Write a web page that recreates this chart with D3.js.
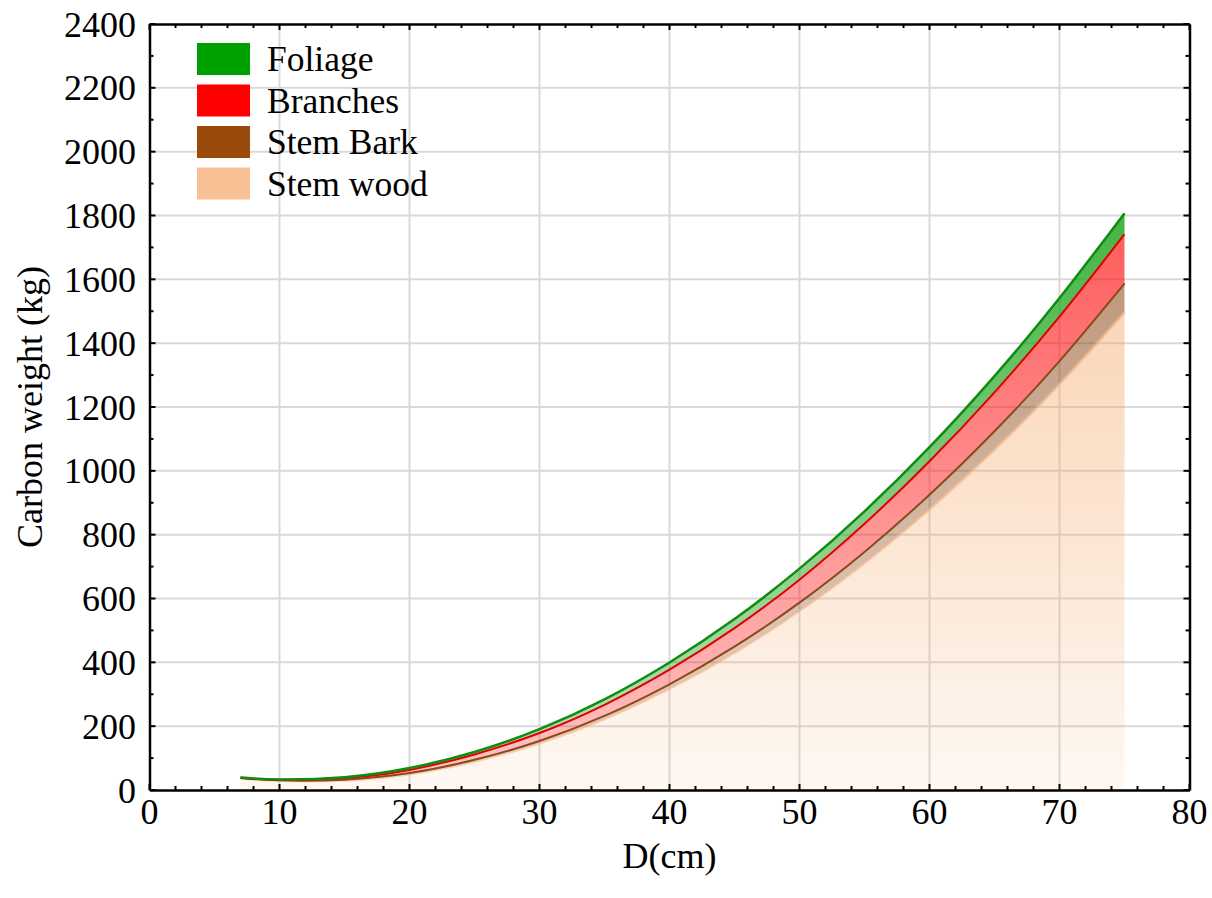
<!DOCTYPE html>
<html>
<head>
<meta charset="utf-8">
<script src="https://cdn.jsdelivr.net/npm/d3@7/dist/d3.min.js"></script>
<style>
  html, body { margin: 0; padding: 0; background: #fff; }
  svg { display: block; }
  text { font-family: "Liberation Serif", "Times New Roman", serif; fill: #000; }
</style>
</head>
<body>
<svg id="chart" width="1212" height="898"></svg>
<script>
// ---- data ----
const diameters = [7, 10, 15, 20, 25, 30, 35, 40, 45, 50, 55, 60, 65, 70, 75];
const stemWood  = [37.5, 29.5, 31, 50, 90, 147, 223, 318, 431, 562, 712, 880, 1067, 1272, 1497];
const stemBark  = [0.3, 0.7, 1.5, 3, 4.5, 6.5, 9, 13, 18, 25, 34, 45, 57, 72, 90];
const branches  = [0.6, 1.8, 5, 10, 17, 25, 35, 46, 58, 72, 88, 105, 122, 139, 154];
const foliage   = [0.7, 1.0, 2.6, 5.8, 7.5, 12.2, 17.1, 22.6, 28.5, 34.5, 39.1, 44.3, 50.9, 58.3, 66];

const seriesNames = ["Stem wood", "Stem Bark", "Branches", "Foliage"];
const legendOrder = ["Foliage", "Branches", "Stem Bark", "Stem wood"];
const xTicks = [0, 10, 20, 30, 40, 50, 60, 70, 80];
const yTicks = [0, 200, 400, 600, 800, 1000, 1200, 1400, 1600, 1800, 2000, 2200, 2400];
const xTitle = "D(cm)";
const yTitle = "Carbon weight (kg)";

// ---- styles ----
const swatch = { "Foliage": "#00a000", "Branches": "#ff0000", "Stem Bark": "#9a4a0a", "Stem wood": "#f8c094" };
const fillBase = { "Foliage": "#22a822", "Branches": "#ff1a1a", "Stem Bark": "#8b4513", "Stem wood": "#f4a460" };
const fillAlpha = { "Foliage": [0.85, 0.3], "Branches": [0.72, 0.25], "Stem Bark": [0.6, 0.2], "Stem wood": [0.52, 0.08] };
const lineStyle = {
  "Foliage": { c: "#108c10", w: 2.5, o: 1 },
  "Branches": { c: "#e00000", w: 2, o: 1 },
  "Stem Bark": { c: "#8b4a1a", w: 2, o: 1 },
  "Stem wood": { c: "#f0b488", w: 3, o: 0.6 }
};

const svg = d3.select("#chart");
const L = 149.5, R = 1189.5, T = 24, B = 790;
const x = d3.scaleLinear().domain([0, 80]).range([L, R]);
const y = d3.scaleLinear().domain([0, 2400]).range([B, T]);

const table = diameters.map((d, i) => ({
  D: d,
  "Stem wood": stemWood[i],
  "Stem Bark": stemBark[i],
  "Branches": branches[i],
  "Foliage": foliage[i]
}));
const stacked = d3.stack().keys(seriesNames)(table);

// gradients
const defs = svg.append("defs");
seriesNames.forEach((name, i) => {
  const g = defs.append("linearGradient")
    .attr("id", "grad" + i)
    .attr("gradientUnits", "userSpaceOnUse")
    .attr("x1", 0).attr("x2", 0)
    .attr("y1", y(1810)).attr("y2", y(0));
  g.append("stop").attr("offset", 0).attr("stop-color", fillBase[name]).attr("stop-opacity", fillAlpha[name][0]);
  g.append("stop").attr("offset", 1).attr("stop-color", fillBase[name]).attr("stop-opacity", fillAlpha[name][1]);
});

// grid
const grid = svg.append("g");
grid.selectAll(".gx").data(xTicks.slice(1, -1)).join("line")
  .attr("x1", d => x(d)).attr("x2", d => x(d)).attr("y1", T).attr("y2", B)
  .attr("stroke", "#d9d9d9").attr("stroke-width", 2);
grid.selectAll(".gy").data(yTicks.slice(1, -1)).join("line")
  .attr("x1", L).attr("x2", R).attr("y1", d => y(d)).attr("y2", d => y(d))
  .attr("stroke", "#d9d9d9").attr("stroke-width", 2);

// areas
const curve = d3.curveNatural;
const area = d3.area().curve(curve)
  .x(d => x(d.data.D)).y0(d => y(d[0])).y1(d => y(d[1]));
const line = d3.line().curve(curve)
  .x(d => x(d.data.D)).y(d => y(d[1]));

const plot = svg.append("g");
stacked.forEach((s, i) => {
  plot.append("path").datum(s).attr("d", area).attr("fill", "url(#grad" + i + ")");
});
stacked.forEach((s) => {
  const st = lineStyle[s.key];
  plot.append("path").datum(s).attr("d", line)
    .attr("fill", "none").attr("stroke", st.c).attr("stroke-width", st.w)
    .attr("stroke-opacity", st.o);
});

// axes frame
const fmt = d3.format("d");
const axB = svg.append("g").attr("transform", `translate(0,${B})`)
  .call(d3.axisBottom(x).tickValues([]).tickSize(0).tickFormat(""));
const axT = svg.append("g").attr("transform", `translate(0,${T})`)
  .call(d3.axisTop(x).tickValues([]).tickSize(0).tickFormat(""));
const axL = svg.append("g").attr("transform", `translate(${L},0)`)
  .call(d3.axisLeft(y).tickValues([]).tickSize(0).tickFormat(""));
const axR = svg.append("g").attr("transform", `translate(${R},0)`)
  .call(d3.axisRight(y).tickValues([]).tickSize(0).tickFormat(""));
[axB, axT, axL, axR].forEach(a => a.select(".domain").attr("stroke", "#000").attr("stroke-width", 2.5));

// inward tick marks
const tk = svg.append("g").attr("stroke", "#000").attr("stroke-width", 2);
d3.range(0, 81, 2).forEach(v => {
  const len = v % 10 === 0 ? 6 : 4;
  tk.append("line").attr("x1", x(v)).attr("x2", x(v)).attr("y1", B).attr("y2", B - len);
  tk.append("line").attr("x1", x(v)).attr("x2", x(v)).attr("y1", T).attr("y2", T + len);
});
d3.range(0, 2401, 100).forEach(v => {
  const len = v % 200 === 0 ? 6 : 4;
  tk.append("line").attr("x1", L).attr("x2", L + len).attr("y1", y(v)).attr("y2", y(v));
  tk.append("line").attr("x1", R).attr("x2", R - len).attr("y1", y(v)).attr("y2", y(v));
});

// tick labels
svg.append("g").selectAll("text").data(xTicks).join("text")
  .attr("x", d => x(d)).attr("y", 824)
  .attr("text-anchor", "middle").attr("font-size", 36).text(fmt);
svg.append("g").selectAll("text").data(yTicks).join("text")
  .attr("x", 136).attr("y", d => y(d)).attr("dy", "0.35em")
  .attr("text-anchor", "end").attr("font-size", 36).text(fmt);

// titles
svg.append("text").attr("x", (L + R) / 2 + 0).attr("y", 868)
  .attr("text-anchor", "middle").attr("font-size", 36).text(xTitle);
svg.append("text").attr("transform", `translate(42,${(T + B) / 2}) rotate(-90)`)
  .attr("text-anchor", "middle").attr("font-size", 36).text(yTitle);

// legend
const lg = svg.append("g");
legendOrder.forEach((name, i) => {
  const yy = 43 + i * 41.5;
  lg.append("rect").attr("x", 197).attr("y", yy).attr("width", 53).attr("height", 32)
    .attr("fill", swatch[name]);
  lg.append("text").attr("x", 267).attr("y", yy + 28).attr("font-size", 35.5).text(name);
});
</script>
</body>
</html>
